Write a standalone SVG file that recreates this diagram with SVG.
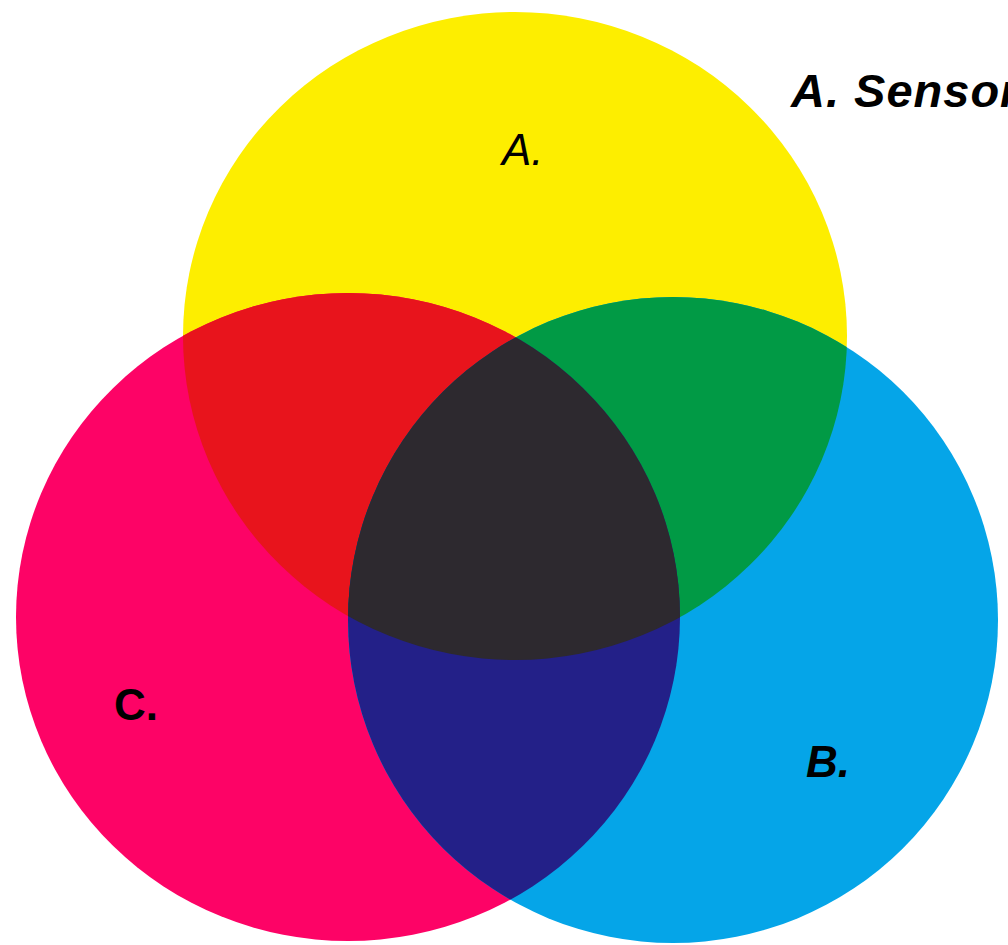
<svg xmlns="http://www.w3.org/2000/svg" width="1008" height="945" viewBox="0 0 1008 945">
<style>
.lbl{font-family:"Liberation Sans",Arial,sans-serif;fill:#000}
</style>
<defs>
<clipPath id="clipY"><ellipse cx="515" cy="336" rx="332" ry="324"/></clipPath>
<clipPath id="clipM"><ellipse cx="348" cy="617" rx="332" ry="324"/></clipPath>
<clipPath id="clipC"><ellipse cx="673" cy="620" rx="325" ry="323"/></clipPath>
</defs>
<rect width="1008" height="945" fill="#ffffff"/>
<g id="circle-a"><ellipse cx="515" cy="336" rx="332" ry="324" fill="#FDEE00"/></g>
<g id="circle-c"><ellipse cx="348" cy="617" rx="332" ry="324" fill="#FD0366"/></g>
<g id="circle-b"><ellipse cx="673" cy="620" rx="325" ry="323" fill="#05A5E8"/></g>
<g id="overlap-ac"><ellipse cx="348" cy="617" rx="332" ry="324" fill="#E8141C" clip-path="url(#clipY)"/></g>
<g id="overlap-ab"><ellipse cx="673" cy="620" rx="325" ry="323" fill="#019A45" clip-path="url(#clipY)"/></g>
<g id="overlap-bc"><ellipse cx="348" cy="617" rx="332" ry="324" fill="#232088" clip-path="url(#clipC)"/></g>
<g id="overlap-abc" clip-path="url(#clipC)"><ellipse cx="515" cy="336" rx="332" ry="324" fill="#2D292F" clip-path="url(#clipM)"/></g>
<g id="labels">
<text class="lbl" x="502" y="165" font-size="44" font-style="italic">A.</text>
<text class="lbl" x="114" y="720" font-size="44" font-weight="bold">C.</text>
<text class="lbl" x="806" y="777" font-size="44" font-weight="bold" font-style="italic">B.</text>
<text class="lbl" x="791" y="107" font-size="47" font-weight="bold" font-style="italic" letter-spacing="1">A. Sensor</text>
</g>
</svg>
